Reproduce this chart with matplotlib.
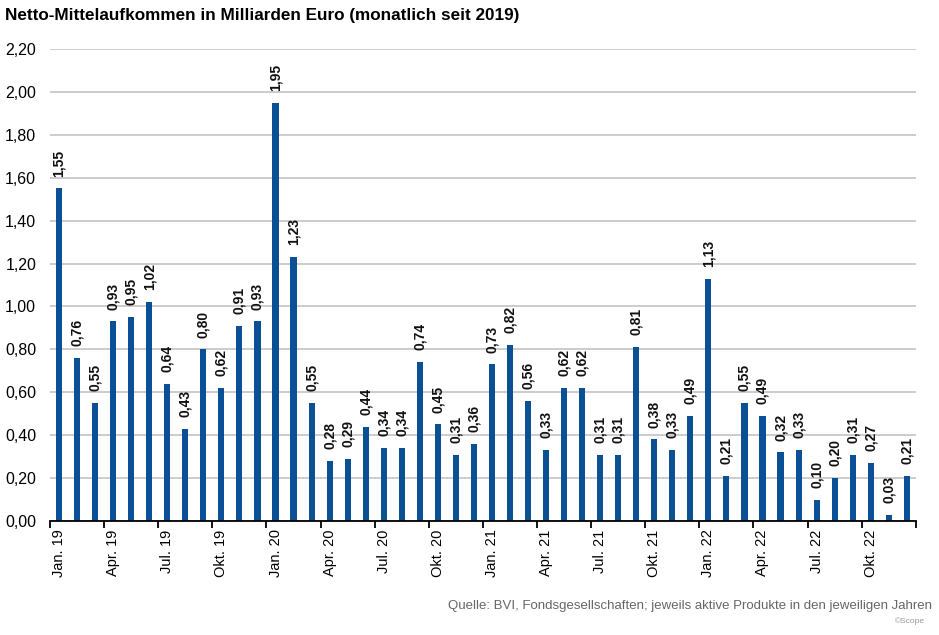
import matplotlib.pyplot as plt
import numpy as np

plt.rcParams['font.family'] = ['Liberation Sans', 'DejaVu Sans']

# monthly net inflow, billion euro, Jan 2019 .. Dec 2022
werte_2019 = [1.55, 0.76, 0.55, 0.93, 0.95, 1.02, 0.64, 0.43, 0.80, 0.62, 0.91, 0.93]
werte_2020 = [1.95, 1.23, 0.55, 0.28, 0.29, 0.44, 0.34, 0.34, 0.74, 0.45, 0.31, 0.36]
werte_2021 = [0.73, 0.82, 0.56, 0.33, 0.62, 0.62, 0.31, 0.31, 0.81, 0.38, 0.33, 0.49]
werte_2022 = [1.13, 0.21, 0.55, 0.49, 0.32, 0.33, 0.10, 0.20, 0.31, 0.27, 0.03, 0.21]
werte = werte_2019 + werte_2020 + werte_2021 + werte_2022

monate = ['Jan.', 'Apr.', 'Jul.', 'Okt.']
jahre = ['19', '20', '21', '22']
tick_labels = [m + ' ' + j for j in jahre for m in monate]

fig = plt.figure(figsize=(9.39, 6.35), dpi=100)
ax = fig.add_axes([0.0533, 0.1795, 0.922, 0.7433])

x = np.arange(len(werte))
ax.bar(x, werte, width=0.34, color='#0b4f95', zorder=3)

for xi, v in zip(x, werte):
    ax.annotate(f'{v:.2f}'.replace('.', ','), (xi, v), xytext=(0, 8.5),
                textcoords='offset points', rotation=90, ha='center', va='bottom',
                fontsize=10, fontweight='bold', color='#111111', zorder=4)

ax.set_xlim(-0.5, len(werte) - 0.5)
ax.set_ylim(0, 2.2)
yt = np.arange(0, 2.21, 0.2)
ax.set_yticks(yt)
ax.set_yticklabels([f'{t:.2f}'.replace('.', ',') for t in yt], fontsize=11.5)
ax.tick_params(axis='y', length=0, pad=10)
ax.yaxis.grid(True, color='#c4c4c4', linewidth=1.2, zorder=0)

ax.set_xticks(x[::3])
ax.set_xticklabels(tick_labels, rotation=90, fontsize=10.5)
ax.set_xticks(np.append(x[::3] - 0.5, len(werte) - 0.5), minor=True)
ax.tick_params(axis='x', which='major', length=0, pad=6)
ax.tick_params(axis='x', which='minor', length=5, width=1.3, color='black')

for s in ['left', 'right', 'top']:
    ax.spines[s].set_visible(False)
ax.spines['bottom'].set_linewidth(1.3)
ax.spines['bottom'].set_zorder(5)

fig.text(0.005, 0.988, 'Netto-Mittelaufkommen in Milliarden Euro (monatlich seit 2019)',
         fontsize=12.3, fontweight='bold', ha='left', va='top')
fig.text(0.993, 0.045, 'Quelle: BVI, Fondsgesellschaften; jeweils aktive Produkte in den jeweiligen Jahren',
         fontsize=9.5, color='#666666', ha='right', va='center')
fig.text(0.985, 0.022, '©Scope', fontsize=6, color='#999999', ha='right', va='center')

fig.savefig('out.png', dpi=100)
